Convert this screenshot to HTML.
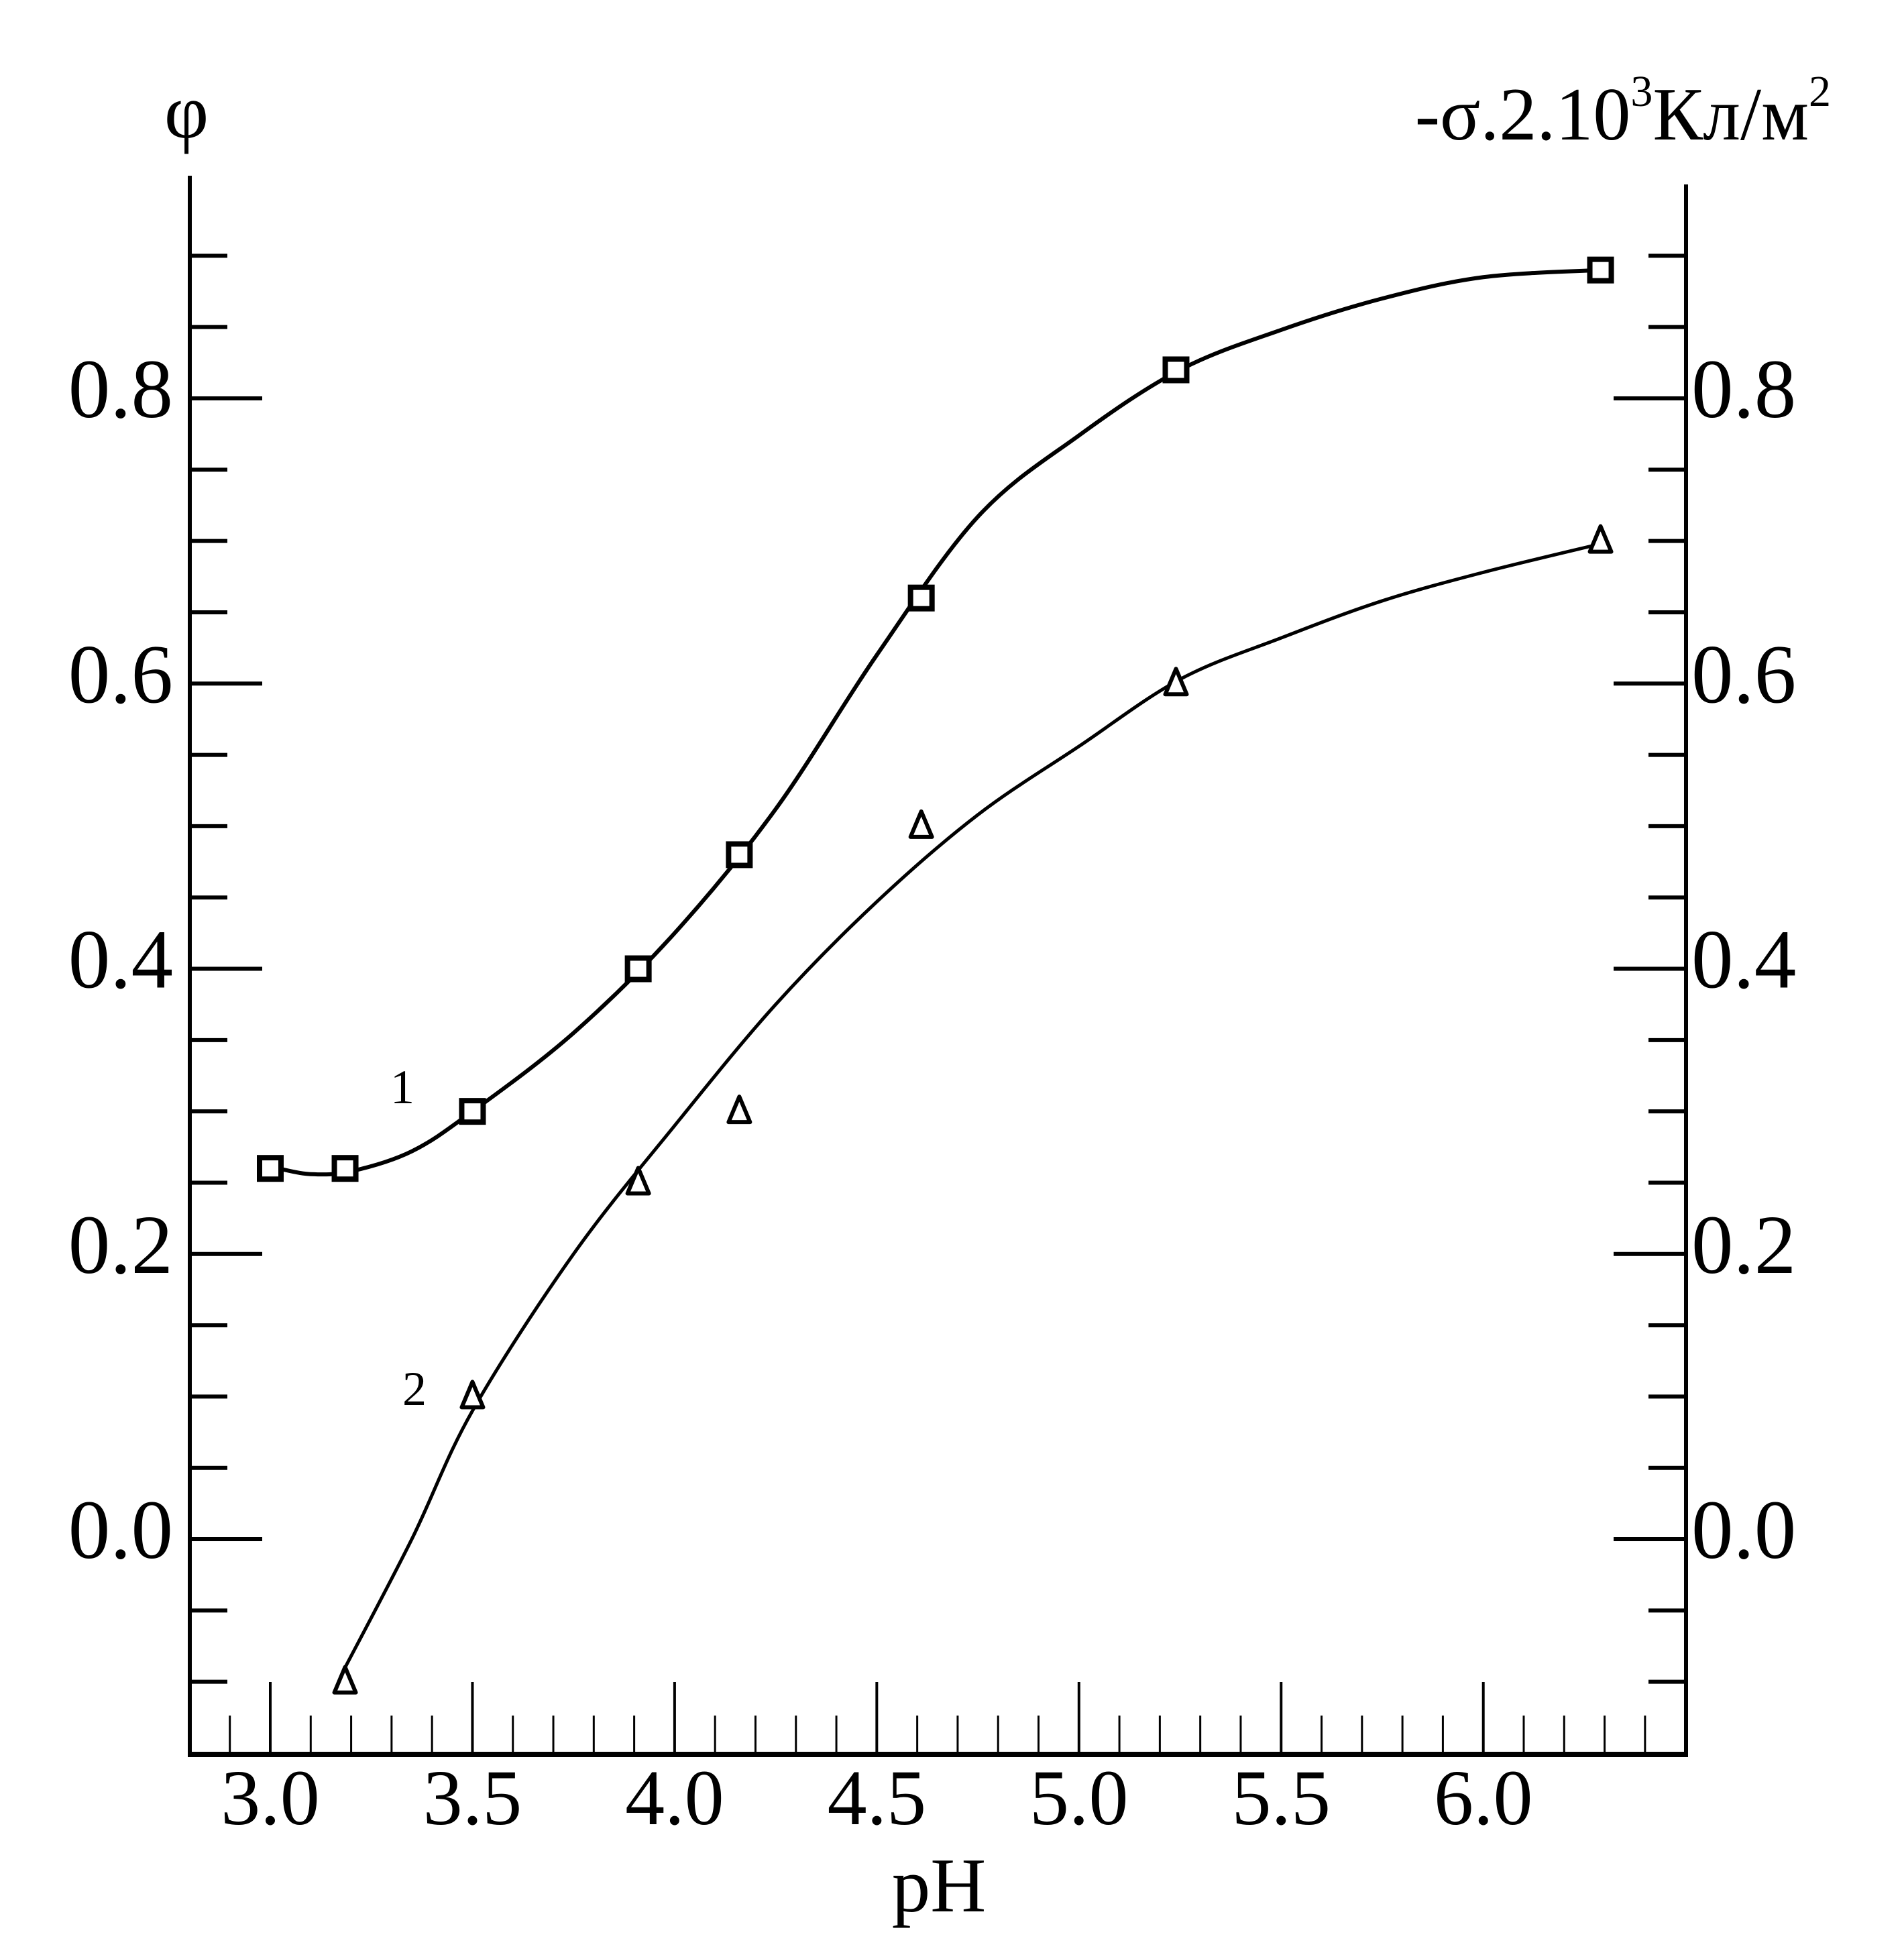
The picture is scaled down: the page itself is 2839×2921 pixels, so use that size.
<!DOCTYPE html>
<html><head><meta charset="utf-8"><style>html,body{margin:0;padding:0;background:#fff}svg{display:block}text{font-family:"Liberation Serif",serif;fill:#000}</style></head>
<body>
<svg width="2839" height="2921" viewBox="0 0 2839 2921" xmlns="http://www.w3.org/2000/svg">
<g id="axes"></g>
<g id="marks"></g>
<text x="278" y="205" font-size="115" text-anchor="middle">φ</text>
<text x="2730" y="208" font-size="112" text-anchor="end">-σ.2.10<tspan font-size="66" dy="-50">3</tspan><tspan dy="50">Кл/м</tspan><tspan font-size="66" dy="-50">2</tspan></text>
<text x="1400" y="2850" font-size="115" text-anchor="middle">pH</text>
<text x="600" y="1645" font-size="72" text-anchor="middle">1</text>
<text x="618" y="2095" font-size="72" text-anchor="middle">2</text>
</svg>
<script>
const xTickLabels=["3.0","3.5","4.0","4.5","5.0","5.5","6.0"];
const yTickLabels=["0.0","0.2","0.4","0.6","0.8"];
const s1x=[3.0,3.185,3.5,3.91,4.16,4.61,5.24,6.29];
const s1y=[0.26,0.26,0.30,0.40,0.48,0.66,0.82,0.89];
const s2x=[3.185,3.5,3.91,4.16,4.61,5.24,6.29];
const s2y=[-0.10,0.10,0.25,0.30,0.50,0.60,0.70];
const c1x=[3.02,3.1,3.2,3.35,3.5,3.75,4.0,4.25,4.5,4.75,5.0,5.25,5.5,5.75,6.0,6.29];
const c1y=[0.26,0.256,0.258,0.272,0.30,0.355,0.425,0.512,0.62,0.717,0.774,0.82,0.848,0.87,0.885,0.89];
const c2x=[3.185,3.35,3.5,3.75,4.0,4.25,4.5,4.75,5.0,5.25,5.5,5.75,6.0,6.29];
const c2y=[-0.09,0.0,0.09,0.20,0.29,0.375,0.447,0.508,0.556,0.603,0.632,0.658,0.678,0.698];

const NS="http://www.w3.org/2000/svg";
const X=v=>403+(v-3)*602.9;
const Y=v=>594+(0.8-v)*2126.3;
const L=283,R=2514,B=2616;
const axes=document.getElementById('axes'),marks=document.getElementById('marks');
function mk(tag,attrs,parent){const e=document.createElementNS(NS,tag);for(const k in attrs)e.setAttribute(k,attrs[k]);parent.appendChild(e);return e;}
let e;
e=mk('line',{x1:L,y1:262,x2:L,y2:B+3,stroke:'#000','stroke-width':6},axes);


e=mk('line',{x1:R,y1:275,x2:R,y2:B+3,stroke:'#000','stroke-width':6},axes);


e=mk('line',{x1:L-3,y1:B,x2:R+3,y2:B,stroke:'#000','stroke-width':8},axes);


for(let i=-2;i<=18;i++){const v=i*0.05,y=Y(v),maj=(i>=0&&i%4===0&&i<=16);const len=maj?108:56;
e=mk('line',{x1:L,y1:y,x2:L+len,y2:y,stroke:'#000','stroke-width':6},axes);


e=mk('line',{x1:R-len,y1:y,x2:R,y2:y,stroke:'#000','stroke-width':6},axes);

}
yTickLabels.forEach(t=>{const y=Y(parseFloat(t));
e=mk('text',{x:258,y:y+28,'font-size':125,'text-anchor':'end'},axes);e.textContent=t;


e=mk('text',{x:2522,y:y+28,'font-size':125,'text-anchor':'start'},axes);e.textContent=t;

});
for(let i=29;i<=64;i++){const v=i/10,x=X(v),maj=(i%5===0);
e=mk('line',{x1:x,y1:B,x2:x,y2:B-(maj?108:58),stroke:'#000','stroke-width':maj?4:3},axes);

}
xTickLabels.forEach(t=>{
e=mk('text',{x:X(parseFloat(t)),y:2720,'font-size':118,'text-anchor':'middle'},axes);e.textContent=t;

});
function smooth(xs,ys){const p=xs.map((x,i)=>[X(x),Y(ys[i])]);let d='M'+p[0][0]+','+p[0][1];
for(let i=0;i<p.length-1;i++){const p0=p[i-1]||p[i],p1=p[i],p2=p[i+1],p3=p[i+2]||p2;
d+=` C${p1[0]+(p2[0]-p0[0])/6},${p1[1]+(p2[1]-p0[1])/6} ${p2[0]-(p3[0]-p1[0])/6},${p2[1]-(p3[1]-p1[1])/6} ${p2[0]},${p2[1]}`;}return d;}
e=mk('path',{d:smooth(c1x,c1y),fill:'none',stroke:'#000','stroke-width':6},marks);


e=mk('path',{d:smooth(c2x,c2y),fill:'none',stroke:'#000','stroke-width':5},marks);


s1x.forEach((v,i)=>{const x=X(v),y=Y(s1y[i]);
e=mk('rect',{x:x-16,y:y-16,width:32,height:32,fill:'#fff',stroke:'#000','stroke-width':8},marks);

});
s2x.forEach((v,i)=>{const x=X(v),y=Y(s2y[i]);
e=mk('polygon',{points:`${x},${y-22} ${x-16},${y+16} ${x+16},${y+16}`,fill:'#fff',stroke:'#000','stroke-width':6,'stroke-linejoin':'round'},marks);

});
</script>
</body></html>
